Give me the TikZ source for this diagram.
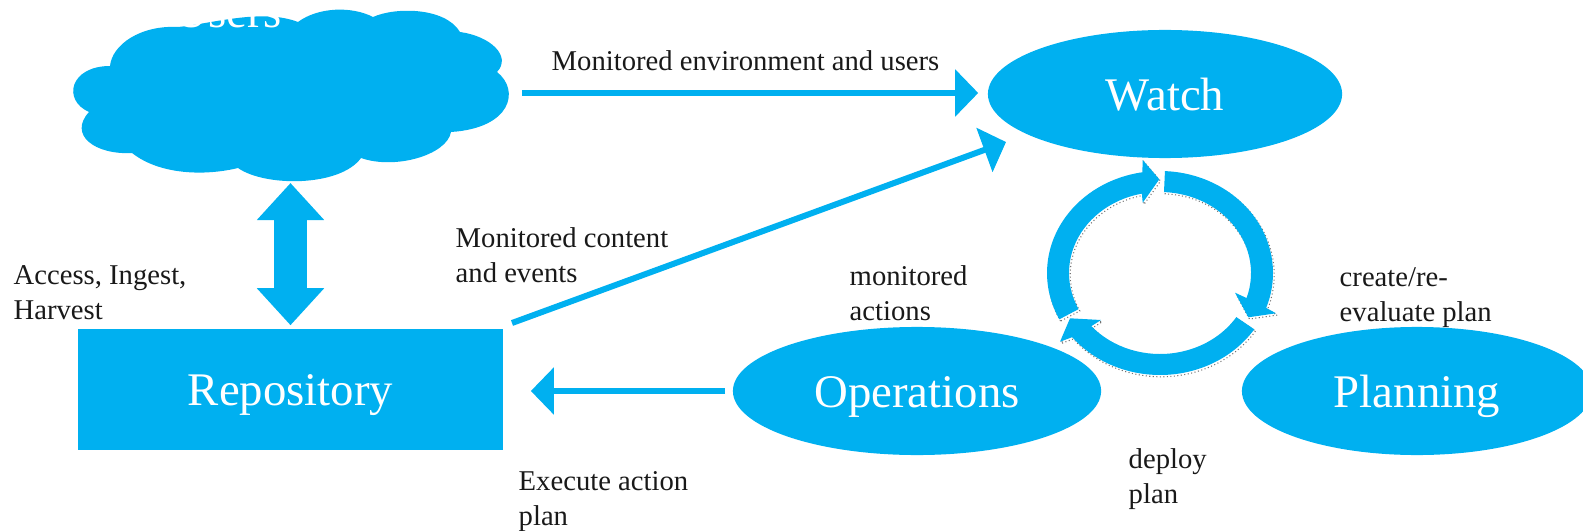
\documentclass[tikz,border=0pt]{standalone}
\usepackage{fontspec}
\setmainfont{Liberation Serif}
\usetikzlibrary{arrows.meta,shapes.geometric}
\definecolor{sky}{HTML}{00B0F0}
\tikzset{
  bigtext/.style={text=white,inner sep=0pt,text height=.32cm,text depth=0pt,font=\fontsize{13.3}{15}\selectfont},
  blob/.style={bigtext,ellipse,fill=sky,minimum height=1.28cm},
  lbl/.style={anchor=north west,align=left,inner sep=0pt,text=black!90,font=\fontsize{8.15}{9.8}\selectfont},
  flow/.style={draw=sky,line width=.06cm,-{Triangle[length=.23cm,width=.46cm]}},
  bigflow/.style={draw=sky,line width=.32cm,{Triangle[length=.37cm,width=.65cm]}-{Triangle[length=.37cm,width=.65cm]}},
  ringarrow/.style={fill=sky,preaction={draw=black!55,dash pattern=on .3pt off .7pt,line width=.3pt,transform canvas={xshift=.012cm,yshift=-.018cm}}}
}
\begin{document}
\begin{tikzpicture}[x=.01cm,y=.01cm]
\useasboundingbox (0,0) rectangle (1583,530);

\fill[sky] (110,464) .. controls (112,485) and (140,505) .. (178,503)
  .. controls (210,506) and (262,522) .. (298,508)
  .. controls (318,523) and (352,524) .. (373,513)
  .. controls (395,523) and (445,523) .. (460,498)
  .. controls (490,494) and (512,474) .. (497,458)
  .. controls (520,440) and (512,402) .. (451,398)
  .. controls (447,375) and (395,360) .. (361,372)
  .. controls (340,343) and (265,343) .. (238,362)
  .. controls (205,354) and (160,355) .. (132,377)
  .. controls (95,375) and (68,395) .. (89,418)
  .. controls (62,430) and (70,464) .. (110,464) -- cycle;
\node[anchor=base,inner sep=0pt,text=white,font=\fontsize{13.3}{15}\selectfont] (users) at (228,502) {Users};

\coordinate (cloudout) at (522,437);
\coordinate (cloudfoot) at (290.5,347);

\node[blob,minimum width=3.54cm] (watch) at (1165,436) {Watch};
\node[blob,minimum width=3.68cm] (ops) at (917,139) {Operations};
\node[blob,minimum width=3.50cm] (plan) at (1417,139) {Planning};
\node[bigtext,fill=sky,minimum width=4.25cm,minimum height=1.21cm] (repo) at (290.5,140.5) {Repository};

\draw[flow,shorten >=.09cm] (cloudout) -- (cloudout -| watch.west);

\draw[bigflow,shorten >=.03cm] (cloudfoot) -- (repo.north);

\coordinate (eventsout) at (512,207);
\coordinate (eventsin) at (1006,388);
\draw[flow] (eventsout) -- (eventsin);

\draw[flow,shorten <=.07cm,shorten >=.27cm] (ops.west) -- (ops.west -| repo.east);

% ring between the three ellipses
\coordinate (ring) at (1160,257);

\path[ringarrow] ([shift={(207:113 and 102)}]ring) arc[start angle=207,end angle=99,x radius=113,y radius=102]
  -- (1142.7,370) -- (1159.3,350.7) -- (1142.7,327.3)
  -- ([shift={(101.5:91 and 81)}]ring) arc[start angle=101.5,end angle=206.5,x radius=91,y radius=81] -- cycle;

\path[ringarrow] ([shift={(87.5:113 and 102)}]ring) arc[start angle=87.5,end angle=-20,x radius=113,y radius=102]
  -- (1276,216.7) -- (1248.3,212.7) -- (1235,237.3)
  -- ([shift={(-18:91 and 81)}]ring) arc[start angle=-18,end angle=87.5,x radius=91,y radius=81] -- cycle;

\path[ringarrow] ([shift={(-33.5:113 and 102)}]ring) arc[start angle=-33.5,end angle=-141,x radius=113,y radius=102]
  -- (1060,188.3) -- (1070,211.7) -- (1101,210)
  -- ([shift={(-139:91 and 81)}]ring) arc[start angle=-139,end angle=-33,x radius=91,y radius=81] -- cycle;

\node[lbl] (envlabel) at (551,480) {Monitored environment and users};
\node[lbl] (accesslabel) at (13,265) {Access, Ingest,\\Harvest};
\node[lbl] (contentlabel) at (455,303) {Monitored content\\and events};
\node[lbl] (actionslabel) at (849,265) {monitored\\actions};
\node[lbl] (executelabel) at (518,59) {Execute action\\plan};
\node[lbl] (deploylabel) at (1128,82) {deploy\\plan};
\node[lbl] (createlabel) at (1339,263) {create/re-\\evaluate plan};

\end{tikzpicture}
\end{document}
